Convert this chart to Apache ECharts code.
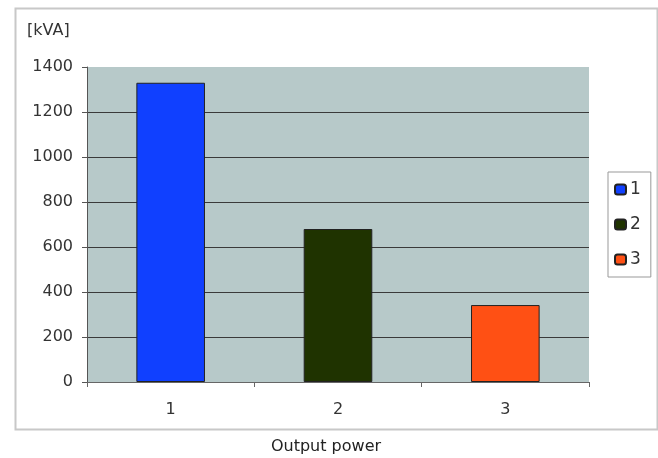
<!DOCTYPE html>
<html><head><meta charset="utf-8">
<script src="https://cdn.jsdelivr.net/npm/echarts@6/dist/echarts.min.js"></script>
<style>html,body{margin:0;padding:0;background:#fff}#c{width:658px;height:458px}</style>
</head><body><div id="c"></div>
<script>
const categories = ['1', '2', '3'];
const seriesNames = ['1', '2', '3'];
const values = [1330, 680, 342];
const colors = ['#1040ff', '#1f3300', '#ff5014'];
const yTicks = [0, 200, 400, 600, 800, 1000, 1200, 1400];

const font = '"DejaVu Sans", sans-serif';
const chart = echarts.init(document.getElementById('c'));
const series = seriesNames.map((n, i) => ({
  name: n,
  type: 'bar',
  stack: 'all',
  barWidth: '41%',
  data: values.map((v, j) => (j === i ? v : null)),
  itemStyle: { color: colors[i], borderColor: '#222', borderWidth: 1 }
}));
chart.setOption({
  animation: false,
  backgroundColor: '#fff',
  graphic: [{
    type: 'rect', left: 13, top: 6,
    shape: { width: 642, height: 421 },
    style: { fill: 'none', stroke: '#c8c8c8', lineWidth: 2 }, z: -1
  }, {
    type: 'text', left: 27, top: 23,
    style: { text: '[kVA]', font: '16px ' + font, fill: '#333' }
  }],
  grid: { left: 87, top: 67, right: 69, bottom: 76, show: true,
    outerBoundsMode: 'none',
    backgroundColor: '#b7c9c9', borderWidth: 0 },
  legend: {
    orient: 'vertical', left: 608, top: 172,
    data: seriesNames,
    itemWidth: 11, itemHeight: 10, itemGap: 18,
    padding: [9, 10, 9, 6],
    borderColor: '#999', borderWidth: 1,
    textStyle: { fontFamily: font, fontSize: 17, color: '#333', padding: [0, 0, 0, -1] }
  },
  xAxis: {
    type: 'category', data: categories,
    name: 'Output power', nameLocation: 'middle', nameGap: 57,
    nameTextStyle: { fontFamily: font, fontSize: 16, color: '#222', padding: [0, 24, 0, 0] },
    axisLine: { lineStyle: { color: '#666', width: 1 } },
    axisTick: { show: true, length: 5, lineStyle: { color: '#666' } },
    axisLabel: { fontFamily: font, fontSize: 16, color: '#333', margin: 20 }
  },
  yAxis: {
    type: 'value', min: 0, max: 1400, interval: 200,
    axisLine: { show: true, lineStyle: { color: '#555' } },
    axisTick: { show: true, length: 5, lineStyle: { color: '#555' } },
    axisLabel: { fontFamily: font, fontSize: 16, color: '#333', margin: 14,
      formatter: v => (yTicks.includes(v) ? String(v) : '') },
    splitLine: { showMaxLine: false, lineStyle: { color: '#3a3a3a', width: 1 } }
  },
  series: series
});
</script></body></html>
